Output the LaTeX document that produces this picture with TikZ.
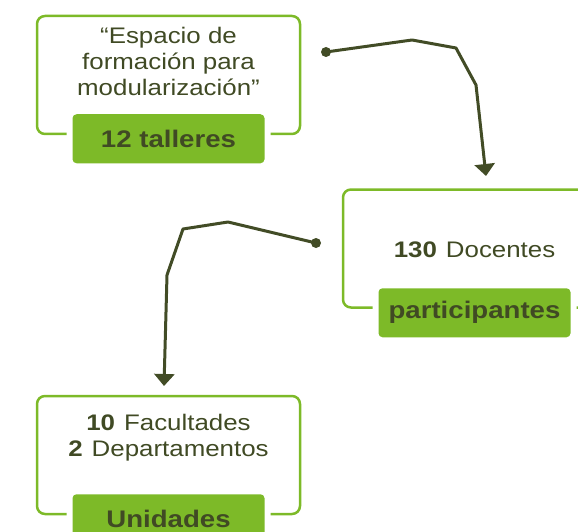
\documentclass[tikz,border=0pt]{standalone}
\usepackage{fontspec}
\setmainfont{Liberation Sans}[FakeStretch=1.15]
\usetikzlibrary{arrows.meta,positioning}

\newcommand{\numgap}{\hspace{9pt}}

\begin{document}
\begin{tikzpicture}
	[x=1pt,y=-1pt,line cap=round,
	%Styles
	frame/.style={draw=boxgreen,line width=2.5pt,rounded corners=8pt,minimum width=263pt,minimum height=118pt,inner sep=0pt},
	tag/.style={fill=boxgreen,rounded corners=4pt,minimum width=192pt,minimum height=49pt,inner sep=0pt,text=textdark,font=\bfseries\fontsize{24}{26}\selectfont,preaction={draw=white,line width=12pt}},
	info text/.style={align=center,text=textdark,font=\fontsize{22.5}{26}\selectfont},
	flow/.style={draw=linedark,line width=3pt,line join=round,-{Triangle[width=20pt,length=12pt]}},
	dot/.style={fill=linedark}
	]
	
	%Colors
	\definecolor{boxgreen}{RGB}{125,186,40}
	\definecolor{textdark}{RGB}{64,74,36}
	\definecolor{linedark}{RGB}{66,76,38}
	
	\useasboundingbox (0,0) rectangle (578,532);
	\clip (0,0) rectangle (578,532);
	
	%The boxes
	\node[frame] (box1) at (168.5,75) {};
	\node[info text] (text1) at ([yshift=14pt]box1.center) {“Espacio de\\formación para\\modularización”};
	\node[tag] (tag1) at ([yshift=-3.5pt]box1.south) {12 talleres};
	
	\node[frame] (box2) at (474.5,248.5) {};
	\node[info text] (text2) at ([yshift=-1pt]box2.center) {\textbf{130}\numgap Docentes};
	\node[tag] (tag2) at ([yshift=-4pt]box2.south) {participantes};
	
	\node[frame] (box3) at (168.5,455) {};
	\node[info text] (text3) at ([yshift=17pt]box3.center) {\textbf{10}\numgap Facultades\\\textbf{2}\numgap Departamentos};
	\node[tag] (tag3) at ([yshift=-3.5pt]box3.south) {Unidades};
	
	%The arrows
	\coordinate (start1) at (326,52);
	\coordinate (end1) at (486,176);
	\fill[dot] (start1) circle (5pt);
	\draw[flow] (start1) -- (412,40) -- (456,48) -- (476,85) -- (end1);
	
	\coordinate (start2) at (316,243);
	\coordinate (end2) at (164,386);
	\fill[dot] (start2) circle (5pt);
	\draw[flow] (start2) -- (228,222) -- (183,229) -- (167,275) -- (end2);
\end{tikzpicture}
\end{document}
